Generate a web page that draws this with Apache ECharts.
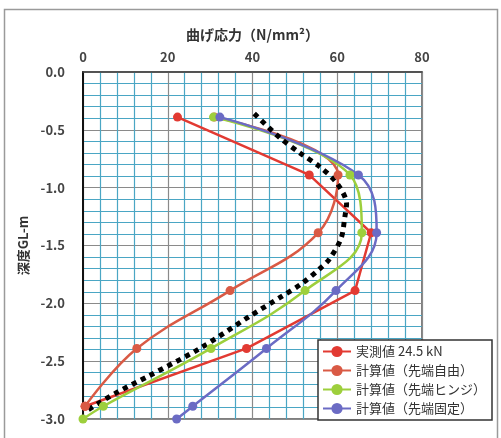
<!DOCTYPE html>
<html>
<head>
<meta charset="utf-8">
<script src="https://cdn.jsdelivr.net/npm/echarts@6/dist/echarts.min.js"></script>
<style>
  html, body { margin: 0; padding: 0; background: #fff; }
  #chart { width: 501px; height: 438px; }
</style>
</head>
<body>
<div id="chart"></div>
<script>
// depth (GL-m) of each reading
const depthMeasured = [-0.39, -0.89, -1.39, -1.89, -2.39, -2.89];
const depthCalc = [-0.39, -0.89, -1.39, -1.89, -2.39, -2.89, -3.0];

// bending stress (N/mm2)
const measured = [22.3, 53.4, 68.0, 64.2, 38.6, 0.5];
const calcFree = [31.0, 60.2, 55.5, 34.7, 12.7, 0.5];
const calcHinge = [30.8, 63.0, 65.8, 52.4, 30.2, 4.8, 0];
const calcFixed = [32.3, 65.0, 69.3, 59.7, 43.3, 25.9, 22.1];

// dotted envelope (no legend entry)
const envStress = [40.4, 46.5, 51.2, 55.9, 59.9, 62.2, 61.8, 60.9, 58.1, 55.9, 51.6, 46.9, 39.4, 27.6, 15.4, 8.0, 1.2];
const envDepth = [-0.36, -0.57, -0.70, -0.82, -0.96, -1.14, -1.25, -1.44, -1.62, -1.70, -1.83, -1.94, -2.11, -2.39, -2.63, -2.77, -2.92];

const names = ['実測値 24.5 kN', '計算値（先端自由）', '計算値（先端ヒンジ）', '計算値（先端固定）'];
const colors = ['#e23a32', '#d95a45', '#9dcf3c', '#6b6bc4'];

const zip = (xs, ys) => xs.map((v, i) => [v, ys[i]]);

const chart = echarts.init(document.getElementById('chart'));
const font = '"Noto Sans CJK JP", "Noto Sans", sans-serif';

function lineSeries(name, color, data, smooth) {
  return {
    name: name,
    type: 'line',
    data: data,
    smooth: smooth,
    symbol: 'circle',
    symbolSize: 9,
    itemStyle: { color: color },
    lineStyle: { color: color, width: 2.5 },
    animation: false
  };
}

chart.setOption({
  textStyle: { fontFamily: font },
  graphic: [{
    type: 'rect',
    shape: { x: 4.5, y: 9.5, width: 493, height: 440 },
    style: { fill: 'none', stroke: '#9a9a9a', lineWidth: 1.5 },
    z: -1
  }],
  grid: {
    left: 83, right: 79, top: 72, bottom: 19,
    show: true, borderColor: '#555', borderWidth: 1.5
  },
  xAxis: {
    type: 'value',
    position: 'top',
    min: 0, max: 80, interval: 20,
    name: '曲げ応力（N/mm²）',
    nameLocation: 'middle',
    nameGap: 30,
    nameTextStyle: { fontSize: 14, fontWeight: 'bold', color: '#333' },
    axisLine: { show: true, lineStyle: { color: '#444', width: 1.5 } },
    axisTick: { show: false },
    axisLabel: { margin: 8, fontSize: 13, color: '#444', fontWeight: 600 },
    splitLine: { show: true, lineStyle: { color: '#8a8a8a', width: 1.2 } },
    minorTick: { show: false, splitNumber: 5 },
    minorSplitLine: { show: true, lineStyle: { color: '#4aa6c4', width: 1.2 } }
  },
  yAxis: {
    type: 'value',
    min: -3, max: 0, interval: 0.5,
    name: '深度GL-m',
    nameLocation: 'middle',
    nameGap: 52,
    nameTextStyle: { fontSize: 13, fontWeight: 'bold', color: '#333' },
    axisLine: { show: true, onZero: false, lineStyle: { color: '#111', width: 2 } },
    axisTick: { show: false },
    axisLabel: { margin: 18, fontSize: 13, color: '#444', fontWeight: 600,
                 formatter: v => v.toFixed(1) },
    splitLine: { show: true, lineStyle: { color: '#8a8a8a', width: 1.2 } },
    minorTick: { show: false, splitNumber: 5 },
    minorSplitLine: { show: true, lineStyle: { color: '#4aa6c4', width: 1.2 } }
  },
  legend: {
    data: names,
    orient: 'vertical',
    left: 318, top: 340,
    backgroundColor: '#fff',
    borderColor: '#333',
    borderWidth: 1.5,
    borderRadius: 0,
    padding: [5, 6, 5, 4],
    itemGap: 6,
    itemWidth: 28,
    itemHeight: 14,
    textStyle: { fontSize: 13, color: '#333', fontFamily: font }
  },
  series: [
    lineSeries(names[0], colors[0], zip(measured, depthMeasured), false),
    lineSeries(names[1], colors[1], zip(calcFree, depthMeasured), 0.4),
    lineSeries(names[2], colors[2], zip(calcHinge, depthCalc), 0.4),
    lineSeries(names[3], colors[3], zip(calcFixed, depthCalc), 0.4),
    {
      name: 'envelope',
      type: 'line',
      data: zip(envStress, envDepth),
      smooth: 0.3,
      symbol: 'none',
      lineStyle: { color: '#000', width: 5, type: [5, 5], cap: 'butt' },
      z: 3,
      animation: false
    }
  ]
});

window.addEventListener('resize', () => chart.resize());
</script>
</body>
</html>
